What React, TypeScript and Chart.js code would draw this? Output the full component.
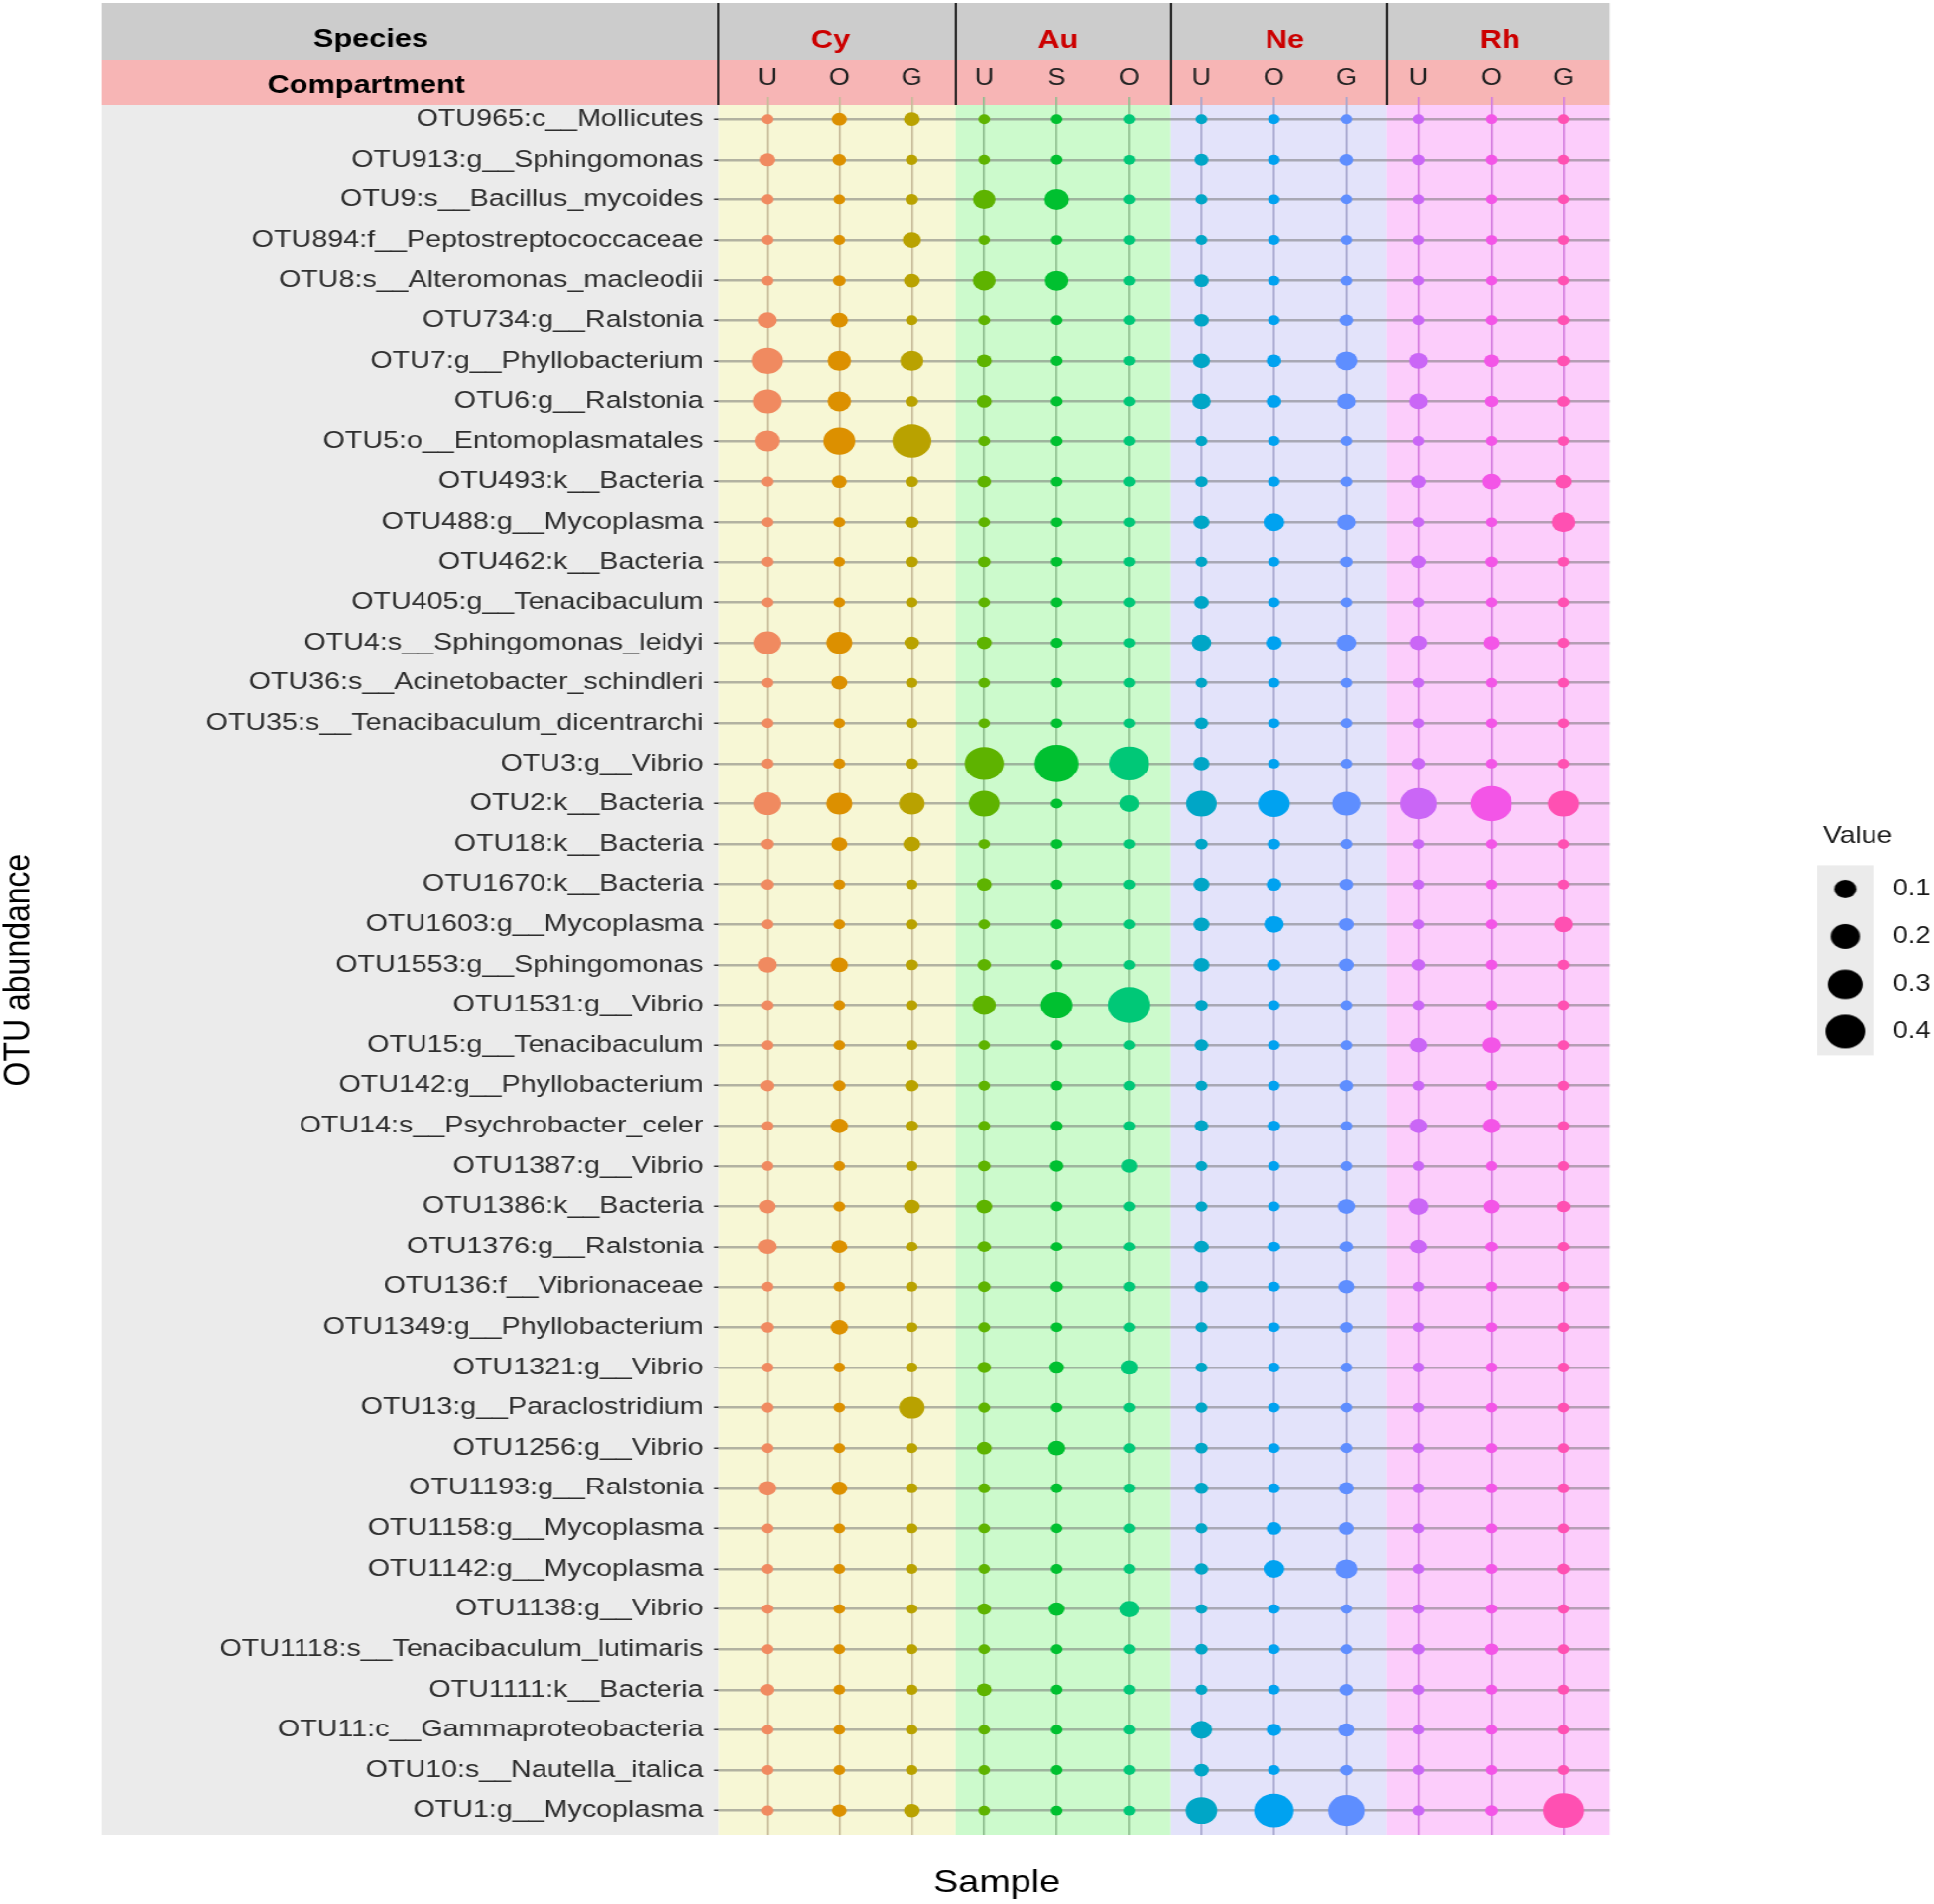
import React, { useEffect, useRef } from 'react';
import { Chart, registerables } from 'chart.js';

Chart.register(...registerables);

const FONT = "'Liberation Sans', Arial, Helvetica, sans-serif";
Chart.defaults.font.family = FONT;

// internal canvas is drawn narrower and stretched horizontally like the reference
const CANVAS_W = 1653;
const CSS_W = 1950;
const CANVAS_H = 1920;

const OTU_LABELS = [
  'OTU965:c__Mollicutes',
  'OTU913:g__Sphingomonas',
  'OTU9:s__Bacillus_mycoides',
  'OTU894:f__Peptostreptococcaceae',
  'OTU8:s__Alteromonas_macleodii',
  'OTU734:g__Ralstonia',
  'OTU7:g__Phyllobacterium',
  'OTU6:g__Ralstonia',
  'OTU5:o__Entomoplasmatales',
  'OTU493:k__Bacteria',
  'OTU488:g__Mycoplasma',
  'OTU462:k__Bacteria',
  'OTU405:g__Tenacibaculum',
  'OTU4:s__Sphingomonas_leidyi',
  'OTU36:s__Acinetobacter_schindleri',
  'OTU35:s__Tenacibaculum_dicentrarchi',
  'OTU3:g__Vibrio',
  'OTU2:k__Bacteria',
  'OTU18:k__Bacteria',
  'OTU1670:k__Bacteria',
  'OTU1603:g__Mycoplasma',
  'OTU1553:g__Sphingomonas',
  'OTU1531:g__Vibrio',
  'OTU15:g__Tenacibaculum',
  'OTU142:g__Phyllobacterium',
  'OTU14:s__Psychrobacter_celer',
  'OTU1387:g__Vibrio',
  'OTU1386:k__Bacteria',
  'OTU1376:g__Ralstonia',
  'OTU136:f__Vibrionaceae',
  'OTU1349:g__Phyllobacterium',
  'OTU1321:g__Vibrio',
  'OTU13:g__Paraclostridium',
  'OTU1256:g__Vibrio',
  'OTU1193:g__Ralstonia',
  'OTU1158:g__Mycoplasma',
  'OTU1142:g__Mycoplasma',
  'OTU1138:g__Vibrio',
  'OTU1118:s__Tenacibaculum_lutimaris',
  'OTU1111:k__Bacteria',
  'OTU11:c__Gammaproteobacteria',
  'OTU10:s__Nautella_italica',
  'OTU1:g__Mycoplasma',
];

const SAMPLE_LABELS = ['U', 'O', 'G', 'U', 'S', 'O', 'U', 'O', 'G', 'U', 'O', 'G'];
const GROUP_LABELS = ['Cy', 'Au', 'Ne', 'Rh'];
const GROUP_CENTERS = [1.88, 5.02, 8.15, 11.12];
const GROUP_BOUNDS = [0.336, 3.607, 6.578, 9.55, 12.63];
const LEGEND_VALUES = [0.1, 0.2, 0.3, 0.4];
const LEGEND_LABELS = ['0.1', '0.2', '0.3', '0.4'];

const CyU = [0.003,0.03,0.005,0.003,0.003,0.06,0.225,0.185,0.133,0.005, 0.003,0.005,0.003,0.167,0.003,0.003,0.005,0.167,0.01,0.01, 0.003,0.06,0.005,0.003,0.017,0.003,0.002,0.037,0.06,0.003, 0.01,0.003,0.005,0.003,0.048,0.003,0.003,0.003,0.003,0.017, 0.003,0.003,0.005];
const CyO = [0.027,0.017,0.003,0.003,0.01,0.048,0.117,0.117,0.245,0.027, 0.005,0.002,0.003,0.15,0.037,0.002,0.005,0.15,0.037,0.005, 0.003,0.048,0.003,0.003,0.01,0.048,0.002,0.005,0.037,0.003, 0.048,0.003,0.003,0.003,0.037,0.003,0.003,0.003,0.003,0.003, 0.003,0.003,0.025];
const CyG = [0.037,0.005,0.01,0.06,0.037,0.003,0.117,0.01,0.386,0.01, 0.017,0.01,0.003,0.027,0.003,0.003,0.01,0.15,0.048,0.003, 0.005,0.01,0.003,0.003,0.017,0.01,0.003,0.037,0.005,0.003, 0.003,0.003,0.15,0.003,0.005,0.003,0.003,0.003,0.003,0.005, 0.003,0.003,0.035];
const AuU = [0.003,0.003,0.105,0.002,0.11,0.005,0.027,0.027,0.005,0.017, 0.003,0.01,0.003,0.027,0.003,0.002,0.386,0.225,0.003,0.027, 0.003,0.017,0.117,0.002,0.003,0.005,0.01,0.037,0.017,0.01, 0.005,0.017,0.005,0.027,0.005,0.003,0.002,0.017,0.003,0.027, 0.003,0.003,0.003];
const AuS = [0.002,0.003,0.133,0.002,0.117,0.003,0.005,0.005,0.005,0.003, 0.002,0.003,0.003,0.005,0.002,0.002,0.5,0.005,0.003,0.003, 0.003,0.003,0.245,0.003,0.002,0.005,0.017,0.003,0.003,0.01, 0.003,0.027,0.003,0.048,0.003,0.002,0.003,0.037,0.003,0.003, 0.003,0.003,0.003];
const AuO = [0.002,0.002,0.003,0.002,0.003,0.002,0.003,0.003,0.003,0.005, 0.002,0.003,0.003,0.003,0.002,0.002,0.41,0.073,0.003,0.005, 0.003,0.003,0.467,0.002,0.002,0.003,0.037,0.003,0.003,0.003, 0.002,0.048,0.003,0.003,0.002,0.002,0.002,0.073,0.003,0.003, 0.003,0.003,0.003];
const NeU = [0.003,0.02,0.005,0.003,0.027,0.027,0.048,0.06,0.005,0.01, 0.037,0.005,0.027,0.073,0.003,0.017,0.037,0.225,0.01,0.037, 0.037,0.037,0.01,0.017,0.005,0.017,0.003,0.005,0.027,0.017, 0.005,0.005,0.005,0.01,0.017,0.005,0.017,0.003,0.01,0.005, 0.09,0.027,0.24];
const NeO = [0.003,0.005,0.003,0.003,0.003,0.003,0.027,0.027,0.003,0.005, 0.087,0.002,0.003,0.037,0.002,0.002,0.003,0.245,0.01,0.027, 0.073,0.017,0.003,0.003,0.003,0.01,0.002,0.003,0.01,0.005, 0.003,0.003,0.003,0.003,0.005,0.027,0.087,0.003,0.003,0.003, 0.025,0.005,0.4];
const NeG = [0.002,0.017,0.002,0.002,0.003,0.017,0.1,0.06,0.003,0.005, 0.06,0.01,0.003,0.073,0.003,0.003,0.003,0.185,0.005,0.017, 0.027,0.027,0.003,0.003,0.017,0.003,0.003,0.048,0.017,0.037, 0.01,0.003,0.003,0.005,0.027,0.027,0.1,0.002,0.003,0.017, 0.035,0.01,0.33];
const RhU = [0.002,0.01,0.003,0.002,0.002,0.005,0.06,0.06,0.003,0.027, 0.003,0.027,0.003,0.048,0.003,0.002,0.017,0.335,0.003,0.003, 0.003,0.017,0.005,0.048,0.005,0.048,0.002,0.073,0.048,0.003, 0.003,0.003,0.003,0.003,0.005,0.003,0.003,0.003,0.01,0.005, 0.003,0.003,0.005];
const RhO = [0.002,0.005,0.002,0.002,0.002,0.005,0.027,0.017,0.003,0.06, 0.002,0.01,0.003,0.037,0.002,0.002,0.003,0.44,0.002,0.003, 0.003,0.005,0.003,0.06,0.003,0.048,0.002,0.037,0.01,0.003, 0.003,0.003,0.003,0.003,0.005,0.003,0.005,0.003,0.017,0.003, 0.003,0.003,0.01];
const RhG = [0.002,0.003,0.002,0.002,0.002,0.005,0.01,0.01,0.002,0.037, 0.117,0.003,0.002,0.005,0.002,0.002,0.003,0.225,0.002,0.003, 0.06,0.005,0.003,0.003,0.003,0.003,0.002,0.017,0.005,0.003, 0.003,0.003,0.003,0.002,0.005,0.003,0.01,0.002,0.003,0.003, 0.003,0.003,0.42];

const SERIES = [CyU, CyO, CyG, AuU, AuS, AuO, NeU, NeO, NeG, RhU, RhO, RhG];

// styles
const DOT_COLORS = ['#F08A60', '#DC9000', '#B9A200', '#5EB300', '#00C030', '#00C877', '#00A6C6', '#00A2F0', '#5E8EFF', '#CA66F6', '#F355E7', '#FF50B2'];
const LINE_COLORS = ['#C8BC9A', '#C8BC9A', '#C8BC9A', '#8FBE8F', '#8FBE8F', '#8FBE8F', '#A6A6CE', '#A6A6CE', '#A6A6CE', '#D57FE0', '#D57FE0', '#D57FE0'];
const GROUP_FILLS = ['#F7F7D5', '#CCFACC', '#E3E3FA', '#FCCDFB'];

function sizeOf(v: number) {
  return Math.sqrt(90 + 2650 * v) / 2;
}

function dotCanvas(v: number, color: string) {
  const r = sizeOf(v);
  const s = Math.ceil(r * 2 + 2);
  const c = document.createElement('canvas');
  c.width = s;
  c.height = s;
  const g = c.getContext('2d');
  if (g) {
    g.fillStyle = color;
    g.beginPath();
    g.arc(s / 2, s / 2, r, 0, Math.PI * 2);
    g.fill();
  }
  return c;
}

function blankCanvas() {
  const c = document.createElement('canvas');
  c.width = 1;
  c.height = 1;
  return c;
}

const backdrop = {
  id: 'backdrop',
  beforeDraw(chart: any) {
    const { ctx, chartArea } = chart;
    const { top, bottom, left, right } = chartArea;
    const xs = chart.scales.x;
    const panelLeft = 87;
    ctx.save();
    ctx.fillStyle = '#CCCCCC';
    ctx.fillRect(panelLeft, 3, right - panelLeft, 58);
    ctx.fillStyle = '#F7B5B5';
    ctx.fillRect(panelLeft, 61, right - panelLeft, top - 61);
    ctx.fillStyle = '#EBEBEB';
    ctx.fillRect(panelLeft, top, left - panelLeft, bottom - top);
    for (let g = 0; g < GROUP_FILLS.length; g++) {
      const x0 = xs.getPixelForValue(GROUP_BOUNDS[g]);
      const x1 = xs.getPixelForValue(GROUP_BOUNDS[g + 1]);
      ctx.fillStyle = GROUP_FILLS[g];
      ctx.fillRect(x0, top, x1 - x0, bottom - top);
    }
    ctx.strokeStyle = '#1a1a1a';
    ctx.lineWidth = 1.8;
    for (let g = 0; g < GROUP_FILLS.length; g++) {
      const px = Math.round(xs.getPixelForValue(GROUP_BOUNDS[g]));
      ctx.beginPath();
      ctx.moveTo(px, 3);
      ctx.lineTo(px, top);
      ctx.stroke();
    }
    ctx.fillStyle = '#000';
    ctx.textAlign = 'center';
    ctx.textBaseline = 'middle';
    ctx.font = `bold 26px ${FONT}`;
    ctx.fillText('Species', 317, 40);
    ctx.fillText('Compartment', 313, 87);
    ctx.font = `32px ${FONT}`;
    ctx.fillText('Sample', 852, 1899);
    const lg = chart.legend;
    if (lg && lg.legendHitBoxes && lg.legendHitBoxes.length >= 4) {
      const hb = lg.legendHitBoxes;
      const cx = hb[0].left + 59 / 2;
      const y0 = hb[0].top + 11.5 - 24;
      const y1 = hb[3].top + 11.5 + 24;
      ctx.fillStyle = '#EBEBEB';
      ctx.fillRect(cx - 24, y0, 48, y1 - y0);
    }
    ctx.restore();
  },
};

export default function App() {
  const ref = useRef<HTMLCanvasElement | null>(null);

  useEffect(() => {
    const canvas = ref.current;
    if (!canvas) return;

    const datasets = SERIES.map((vals, k) => ({
      label: `${GROUP_LABELS[Math.floor(k / 3)]} ${SAMPLE_LABELS[k]}`,
      data: vals.map((_, i) => ({ x: k + 1, y: i })),
      pointRadius: vals.map(sizeOf),
      pointHoverRadius: vals.map(sizeOf),
      backgroundColor: DOT_COLORS[k],
      borderWidth: 0,
      pointBorderWidth: 0,
      xAxisID: 'x',
      yAxisID: 'y',
    }));

    const legendItems: any[] = LEGEND_VALUES.map((v, i) => ({
      text: LEGEND_LABELS[i],
      pointStyle: dotCanvas(v, '#000'),
      fillStyle: '#000',
      strokeStyle: '#000',
      lineWidth: 0,
      hidden: false,
    }));
    legendItems.push({
      text: '',
      pointStyle: blankCanvas(),
      fillStyle: 'rgba(0,0,0,0)',
      strokeStyle: 'rgba(0,0,0,0)',
      lineWidth: 0,
      hidden: false,
    });

    const chart = new Chart(canvas, {
      type: 'scatter',
      data: { datasets },
      options: {
        responsive: false,
        animation: false,
        devicePixelRatio: 1,
        events: [],
        layout: { padding: { left: 0, right: 0, top: 0, bottom: 70 } },
        plugins: {
          tooltip: { enabled: false },
          legend: {
            display: true,
            position: 'right',
            align: 'center',
            fullSize: false,
            maxWidth: 130.5,
            title: {
              display: true,
              text: 'Value',
              position: 'center',
              color: '#1a1a1a',
              font: { family: FONT, size: 24 },
              padding: 0,
            },
            labels: {
              usePointStyle: true,
              pointStyleWidth: 59,
              padding: 25,
              color: '#1a1a1a',
              font: { family: FONT, size: 23 },
              generateLabels: () => legendItems,
            },
          },
        },
        scales: {
          x: {
            type: 'linear',
            axis: 'x',
            position: 'top',
            min: GROUP_BOUNDS[0],
            max: GROUP_BOUNDS[GROUP_BOUNDS.length - 1],
            bounds: 'data',
            weight: 1,
            afterBuildTicks: (s: any) => {
              s.ticks = SAMPLE_LABELS.map((_, i) => ({ value: i + 1 }));
            },
            afterFit: (s: any) => {
              s.height = 45;
            },
            ticks: {
              autoSkip: false,
              maxRotation: 0,
              padding: 4.2,
              color: '#222',
              font: { family: FONT, size: 23 },
              callback: (v: any) => SAMPLE_LABELS[Math.round(Number(v)) - 1],
            },
            grid: {
              display: true,
              drawOnChartArea: true,
              drawTicks: true,
              tickLength: 8,
              lineWidth: 1.6,
              color: (c: any) => LINE_COLORS[c.index] || 'rgba(0,0,0,0)',
              tickColor: (c: any) => LINE_COLORS[c.index] || 'rgba(0,0,0,0)',
            },
            border: { display: false },
          },
          xg: {
            type: 'linear',
            axis: 'x',
            position: 'top',
            min: GROUP_BOUNDS[0],
            max: GROUP_BOUNDS[GROUP_BOUNDS.length - 1],
            bounds: 'data',
            weight: 2,
            afterBuildTicks: (s: any) => {
              s.ticks = GROUP_CENTERS.map((v) => ({ value: v }));
            },
            afterFit: (s: any) => {
              s.height = 61;
            },
            ticks: {
              autoSkip: false,
              maxRotation: 0,
              padding: 5,
              color: '#CC0000',
              font: { family: FONT, size: 26, weight: 'bold' },
              callback: (_v: any, i: number) => GROUP_LABELS[i],
            },
            grid: { display: false, drawTicks: false },
            border: { display: false },
          },
          y: {
            type: 'linear',
            axis: 'y',
            position: 'left',
            reverse: true,
            min: -0.35,
            max: 42.6,
            bounds: 'data',
            afterBuildTicks: (s: any) => {
              s.ticks = OTU_LABELS.map((_, i) => ({ value: i }));
            },
            afterFit: (s: any) => {
              s.width = 614.4;
            },
            ticks: {
              autoSkip: false,
              padding: 9,
              color: '#2e2e2e',
              font: { family: FONT, size: 24.3 },
              callback: (v: any) => OTU_LABELS[Math.round(Number(v))],
            },
            grid: {
              color: 'rgba(110,110,110,0.5)',
              lineWidth: 2.5,
              tickLength: 4,
              tickColor: '#333',
              tickWidth: 1.5,
            },
            border: { display: false },
            title: {
              display: true,
              text: 'OTU abundance',
              color: '#000',
              font: { family: FONT, size: 32, lineHeight: 1 },
              padding: 0,
            },
          },
          yr: {
            type: 'linear',
            axis: 'y',
            position: 'right',
            display: true,
            afterFit: (s: any) => {
              s.width = 147.1;
            },
            ticks: { display: false },
            grid: { display: false, drawTicks: false },
            border: { display: false },
          },
        },
      } as any,
      plugins: [backdrop],
    });

    return () => {
      chart.destroy();
    };
  }, []);

  return (
    <div style={{ position: 'absolute', left: 0, top: 0, width: CSS_W, height: CANVAS_H, background: '#fff' }}>
      <canvas
        ref={ref}
        width={CANVAS_W}
        height={CANVAS_H}
        style={{ display: 'block', width: `${CSS_W}px`, height: `${CANVAS_H}px` }}
      />
    </div>
  );
}
